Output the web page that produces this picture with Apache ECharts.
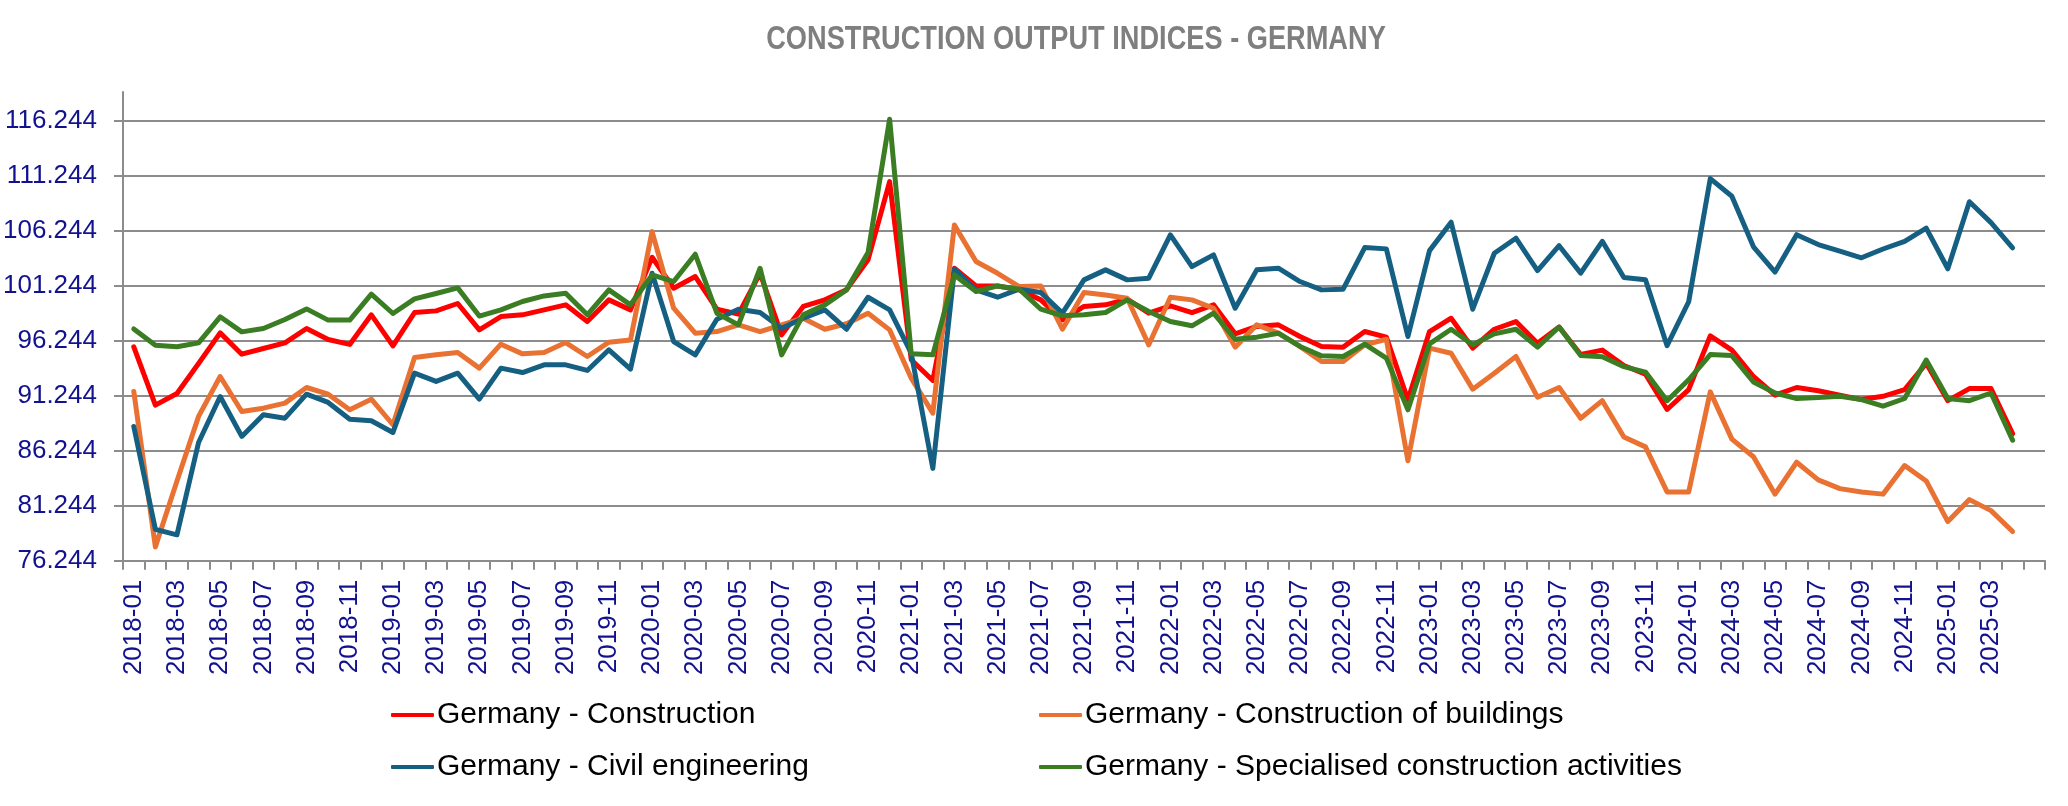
<!DOCTYPE html>
<html><head><meta charset="utf-8">
<script src="https://cdn.jsdelivr.net/npm/echarts@6/dist/echarts.min.js"></script>
<style>html,body{margin:0;padding:0;background:#fff}#c{width:2068px;height:806px}</style>
</head><body><div id="c"></div>
<script>
const months = [
 '2018-01','2018-02','2018-03','2018-04','2018-05','2018-06','2018-07','2018-08','2018-09','2018-10','2018-11','2018-12',
 '2019-01','2019-02','2019-03','2019-04','2019-05','2019-06','2019-07','2019-08','2019-09','2019-10','2019-11','2019-12',
 '2020-01','2020-02','2020-03','2020-04','2020-05','2020-06','2020-07','2020-08','2020-09','2020-10','2020-11','2020-12',
 '2021-01','2021-02','2021-03','2021-04','2021-05','2021-06','2021-07','2021-08','2021-09','2021-10','2021-11','2021-12',
 '2022-01','2022-02','2022-03','2022-04','2022-05','2022-06','2022-07','2022-08','2022-09','2022-10','2022-11','2022-12',
 '2023-01','2023-02','2023-03','2023-04','2023-05','2023-06','2023-07','2023-08','2023-09','2023-10','2023-11','2023-12',
 '2024-01','2024-02','2024-03','2024-04','2024-05','2024-06','2024-07','2024-08','2024-09','2024-10','2024-11','2024-12',
 '2025-01','2025-02','2025-03','2025-04',''
];
const construction = [
 95.70,90.40,91.46,94.19,96.97,95.03,95.55,96.06,97.37,96.37,95.92,98.61,
 95.79,98.82,98.97,99.64,97.24,98.45,98.61,99.06,99.52,98.00,99.97,99.06,
 103.85,101.03,102.09,99.12,98.67,102.39,96.79,99.37,99.97,100.88,103.61,110.73,
 94.52,92.64,102.85,101.24,101.24,100.88,99.97,98.15,99.37,99.52,100.03,98.76,
 99.43,98.82,99.52,96.88,97.55,97.70,96.64,95.73,95.67,97.09,96.58,90.88,
 97.09,98.30,95.58,97.30,98.00,96.03,97.50,95.00,95.40,94.00,93.20,90.00,
 91.80,96.70,95.40,93.00,91.30,92.00,91.70,91.30,90.90,91.20,91.80,94.20,
 90.80,91.90,91.90,87.80
];
const buildings = [
 91.64,77.50,83.50,89.37,93.00,89.82,90.12,90.58,92.00,91.39,89.97,90.94,
 88.61,94.73,94.97,95.18,93.76,95.94,95.06,95.18,96.09,94.82,96.12,96.33,
 106.18,99.21,96.94,97.09,97.70,97.09,97.70,98.30,97.30,97.80,98.76,97.24,
 92.85,89.67,106.79,103.46,102.39,101.18,101.24,97.30,100.64,100.42,100.12,95.88,
 100.21,99.97,99.21,95.67,97.70,96.94,95.73,94.36,94.36,95.88,96.39,85.33,
 95.58,95.12,91.85,93.30,94.82,91.12,92.00,89.20,90.80,87.50,86.60,82.50,
 82.50,91.60,87.30,85.70,82.30,85.20,83.60,82.80,82.50,82.30,84.90,83.50,
 79.80,81.80,80.80,78.90
];
const civil = [
 88.45,79.10,78.60,87.00,91.18,87.55,89.52,89.21,91.39,90.64,89.12,88.97,
 87.91,93.30,92.55,93.30,90.94,93.76,93.36,94.06,94.06,93.55,95.43,93.67,
 102.39,96.18,94.97,98.21,99.12,98.82,97.39,98.30,99.06,97.30,100.21,99.06,
 95.12,84.64,102.76,100.88,100.21,100.94,100.64,98.76,101.79,102.70,101.79,101.94,
 105.88,103.00,104.06,99.21,102.70,102.85,101.64,100.88,100.94,104.73,104.61,96.64,
 104.45,107.03,99.12,104.21,105.58,102.64,104.90,102.40,105.30,102.00,101.80,95.80,
 99.80,111.00,109.40,104.80,102.50,105.90,105.00,104.40,103.80,104.60,105.30,106.50,
 102.80,108.90,107.00,104.70
];
const specialised = [
 97.33,95.85,95.70,96.06,98.43,97.06,97.37,98.19,99.15,98.13,98.13,100.49,
 98.73,100.06,100.55,101.06,98.50,99.06,99.82,100.33,100.58,98.61,100.88,99.52,
 102.24,101.64,104.12,98.76,97.70,102.85,94.97,98.61,99.52,100.88,104.27,116.40,
 95.06,94.97,102.24,100.73,101.24,100.94,99.12,98.52,98.61,98.82,99.97,98.91,
 98.00,97.61,98.76,96.39,96.58,96.94,95.73,94.88,94.82,95.94,94.67,89.97,
 95.97,97.30,95.88,96.88,97.30,95.67,97.50,94.90,94.80,93.90,93.40,90.80,
 92.70,95.00,94.90,92.50,91.50,91.00,91.10,91.20,90.90,90.30,91.00,94.50,
 91.00,90.80,91.50,87.20
];
const yTickLabels = ['76.244','81.244','86.244','91.244','96.244','101.244','106.244','111.244','116.244',''];
const titleText = 'CONSTRUCTION OUTPUT INDICES - GERMANY';
const seriesNames = ['Germany - Construction','Germany - Construction of buildings','Germany - Civil engineering','Germany - Specialised construction activities'];
const seriesColors = ['#ff0000','#e97132','#156082','#3b7d23'];

const chart = echarts.init(document.getElementById('c'));
const font = "'Liberation Sans', Arial, sans-serif";
const gridGray = '#8c8c8c';
const labelBlue = '#12128f';
function legendItem(name, left, top) {
  return { data: [name], left: left, top: top, orient: 'horizontal', itemWidth: 43, itemHeight: 4, icon: 'roundRect',
    itemGap: 0, padding: 0, textStyle: { fontSize: 30, color: '#000', fontFamily: font, padding: [0,0,0,-2] } };
}
const values = [construction, buildings, civil, specialised];
const option = {
  animation: false,
  backgroundColor: '#fff',
  graphic: [{
    type: 'text', x: 1076, y: 40, scaleX: 0.8, scaleY: 1,
    style: { text: titleText, font: "bold 34px 'Liberation Sans', Arial, sans-serif", fill: '#7f7f7f',
      textAlign: 'center', textVerticalAlign: 'middle' }
  }],
  legend: [
    legendItem(seriesNames[0], 391, 700),
    legendItem(seriesNames[1], 1039, 700),
    legendItem(seriesNames[2], 391, 752),
    legendItem(seriesNames[3], 1039, 752)
  ],
  grid: { left: 122.7, right: 23, top: 92, bottom: 245.3, containLabel: false },
  xAxis: {
    type: 'category', data: months, boundaryGap: true,
    axisLine: { lineStyle: { color: gridGray, width: 2 } },
    axisTick: { show: true, interval: 0, length: 9, lineStyle: { color: gridGray, width: 2 } },
    axisLabel: { interval: 1, rotate: 90, margin: 19, fontSize: 26, color: labelBlue, fontFamily: font },
    splitLine: { show: false }
  },
  yAxis: {
    type: 'value', min: 76.244, max: 118.88, interval: 5,
    axisLine: { show: true, lineStyle: { color: gridGray, width: 2 } },
    axisTick: { show: true, length: 9, lineStyle: { color: gridGray, width: 2 } },
    axisLabel: { margin: 26, fontSize: 26, color: labelBlue, fontFamily: font, showMaxLabel: false,
      formatter: function (v, idx) { return yTickLabels[idx] || ''; } },
    splitLine: { show: true, showMaxLine: false, lineStyle: { color: [gridGray,gridGray,gridGray,gridGray,gridGray,gridGray,gridGray,gridGray,gridGray,'rgba(0,0,0,0)'], width: 2 } }
  },
  series: seriesNames.map(function (n, k) {
    return { name: n, type: 'line', data: values[k], symbol: 'none', showSymbol: false,
      color: seriesColors[k], lineStyle: { width: 5, color: seriesColors[k], cap: 'round', join: 'round' } };
  })
};
chart.setOption(option);
</script></body></html>
